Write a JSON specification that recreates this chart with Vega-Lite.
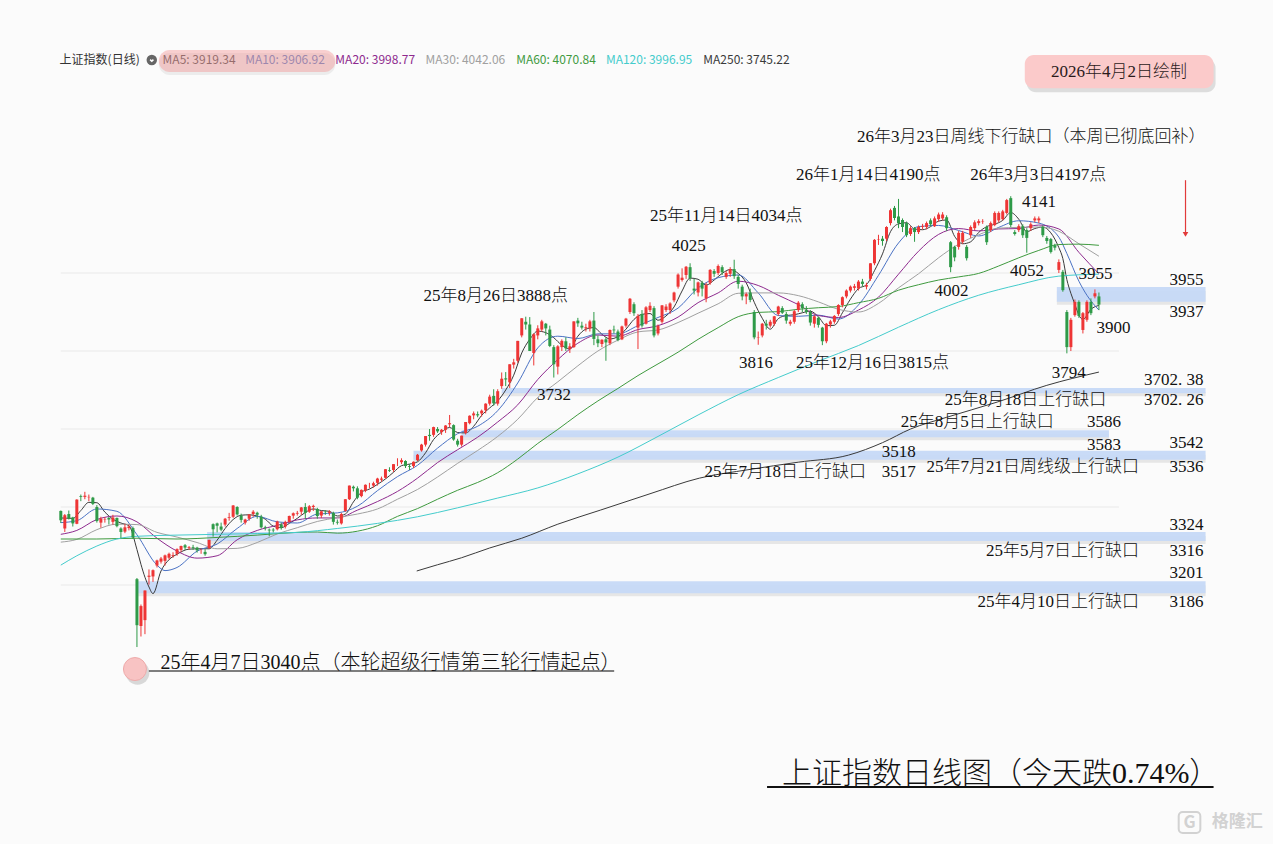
{
"$schema":"https://vega.github.io/schema/vega-lite/v6.json",
"width":1273,"height":844,"padding":0,"autosize":{"type":"none"},
"background":"#fbfbfb",
"config":{"view":{"stroke":null}},
"datasets":{
"candles":[
{"t":-19,"o":3390,"h":3391,"l":3359,"c":3366},{"t":-18,"o":3345,"h":3382,"l":3336,"c":3379},{"t":-17,"o":3382,"h":3391,"l":3368,"c":3371},{"t":-16,"o":3373,"h":3375,"l":3350,"c":3358},{"t":-15,"o":3357,"h":3420,"l":3356,"c":3419},{"t":-14,"o":3428,"h":3432,"l":3415,"c":3426},{"t":-13,"o":3426,"h":3439,"l":3420,"c":3429},{"t":-12,"o":3425,"h":3432,"l":3415,"c":3426},{"t":-11,"o":3424,"h":3426,"l":3405,"c":3408},{"t":-10,"o":3400,"h":3405,"l":3360,"c":3364},
{"t":-9,"o":3360,"h":3375,"l":3347,"c":3370},{"t":-8,"o":3368,"h":3374,"l":3360,"c":3369},{"t":-7,"o":3372,"h":3375,"l":3355,"c":3368},{"t":-6,"o":3362,"h":3380,"l":3355,"c":3373},{"t":-5,"o":3372,"h":3373,"l":3348,"c":3351},{"t":-4,"o":3345,"h":3348,"l":3320,"c":3336},{"t":-3,"o":3337,"h":3357,"l":3333,"c":3348},{"t":-2,"o":3346,"h":3355,"l":3340,"c":3350},{"t":-1,"o":3346,"h":3350,"l":3318,"c":3322},
{"t":0,"o":3215,"h":3218,"l":3041,"c":3097},{"t":1,"o":3095,"h":3150,"l":3068,"c":3146},{"t":2,"o":3110,"h":3186,"l":3074,"c":3186},{"t":3,"o":3221,"h":3240,"l":3201,"c":3224},{"t":4,"o":3222,"h":3240,"l":3208,"c":3238},{"t":5,"o":3250,"h":3265,"l":3245,"c":3263},{"t":6,"o":3260,"h":3272,"l":3255,"c":3268},{"t":7,"o":3262,"h":3278,"l":3250,"c":3276},{"t":8,"o":3270,"h":3283,"l":3265,"c":3280},{"t":9,"o":3275,"h":3284,"l":3270,"c":3277},
{"t":10,"o":3280,"h":3294,"l":3275,"c":3292},{"t":11,"o":3290,"h":3301,"l":3285,"c":3300},{"t":12,"o":3302,"h":3305,"l":3290,"c":3296},{"t":13,"o":3295,"h":3300,"l":3290,"c":3297},{"t":14,"o":3297,"h":3303,"l":3290,"c":3295},{"t":15,"o":3296,"h":3298,"l":3283,"c":3289},{"t":16,"o":3287,"h":3293,"l":3280,"c":3287},{"t":17,"o":3285,"h":3292,"l":3275,"c":3279},{"t":18,"o":3295,"h":3316,"l":3292,"c":3316},{"t":19,"o":3356,"h":3358,"l":3324,"c":3343},
{"t":20,"o":3358,"h":3360,"l":3335,"c":3352},{"t":21,"o":3350,"h":3360,"l":3338,"c":3342},{"t":22,"o":3355,"h":3372,"l":3350,"c":3370},{"t":23,"o":3372,"h":3385,"l":3365,"c":3374},{"t":24,"o":3375,"h":3405,"l":3372,"c":3404},{"t":25,"o":3400,"h":3402,"l":3378,"c":3381},{"t":26,"o":3378,"h":3383,"l":3360,"c":3367},{"t":27,"o":3360,"h":3370,"l":3355,"c":3368},{"t":28,"o":3370,"h":3382,"l":3365,"c":3381},{"t":29,"o":3382,"h":3392,"l":3375,"c":3388},
{"t":30,"o":3385,"h":3388,"l":3370,"c":3380},{"t":31,"o":3375,"h":3380,"l":3345,"c":3348},{"t":32,"o":3348,"h":3352,"l":3340,"c":3346},{"t":33,"o":3342,"h":3345,"l":3325,"c":3340},{"t":34,"o":3342,"h":3346,"l":3335,"c":3340},{"t":35,"o":3343,"h":3365,"l":3340,"c":3363},{"t":36,"o":3355,"h":3360,"l":3342,"c":3347},{"t":37,"o":3350,"h":3365,"l":3345,"c":3362},{"t":38,"o":3362,"h":3378,"l":3360,"c":3377},{"t":39,"o":3378,"h":3386,"l":3370,"c":3384},
{"t":40,"o":3383,"h":3390,"l":3378,"c":3385},{"t":41,"o":3388,"h":3400,"l":3380,"c":3399},{"t":42,"o":3400,"h":3410,"l":3370,"c":3385},{"t":43,"o":3388,"h":3405,"l":3385,"c":3402},{"t":44,"o":3400,"h":3406,"l":3390,"c":3403},{"t":45,"o":3395,"h":3398,"l":3370,"c":3377},{"t":46,"o":3378,"h":3390,"l":3372,"c":3389},{"t":47,"o":3388,"h":3392,"l":3380,"c":3387},{"t":48,"o":3385,"h":3392,"l":3378,"c":3388},{"t":49,"o":3385,"h":3388,"l":3355,"c":3362},
{"t":50,"o":3362,"h":3368,"l":3355,"c":3360},{"t":51,"o":3358,"h":3385,"l":3355,"c":3382},{"t":52,"o":3390,"h":3420,"l":3388,"c":3420},{"t":53,"o":3420,"h":3455,"l":3418,"c":3455},{"t":54,"o":3452,"h":3455,"l":3440,"c":3448},{"t":55,"o":3448,"h":3453,"l":3420,"c":3424},{"t":56,"o":3428,"h":3445,"l":3425,"c":3444},{"t":57,"o":3442,"h":3458,"l":3438,"c":3457},{"t":58,"o":3455,"h":3462,"l":3448,"c":3455},{"t":59,"o":3455,"h":3465,"l":3450,"c":3461},
{"t":60,"o":3462,"h":3475,"l":3455,"c":3473},{"t":61,"o":3470,"h":3478,"l":3465,"c":3473},{"t":62,"o":3475,"h":3497,"l":3473,"c":3497},{"t":63,"o":3495,"h":3502,"l":3490,"c":3493},{"t":64,"o":3495,"h":3510,"l":3490,"c":3510},{"t":65,"o":3510,"h":3525,"l":3505,"c":3510},{"t":66,"o":3515,"h":3525,"l":3510,"c":3520},{"t":67,"o":3518,"h":3520,"l":3500,"c":3505},{"t":68,"o":3505,"h":3510,"l":3495,"c":3503},{"t":69,"o":3505,"h":3517,"l":3500,"c":3516},
{"t":70,"o":3520,"h":3536,"l":3518,"c":3534},{"t":71,"o":3545,"h":3562,"l":3542,"c":3560},{"t":72,"o":3560,"h":3582,"l":3555,"c":3582},{"t":73,"o":3585,"h":3600,"l":3570,"c":3582},{"t":74,"o":3585,"h":3606,"l":3580,"c":3605},{"t":75,"o":3600,"h":3605,"l":3590,"c":3594},{"t":76,"o":3592,"h":3600,"l":3585,"c":3598},{"t":77,"o":3598,"h":3610,"l":3590,"c":3609},{"t":78,"o":3612,"h":3636,"l":3605,"c":3615},{"t":79,"o":3610,"h":3612,"l":3570,"c":3573},
{"t":80,"o":3570,"h":3575,"l":3555,"c":3560},{"t":81,"o":3560,"h":3583,"l":3555,"c":3583},{"t":82,"o":3590,"h":3618,"l":3586,"c":3618},{"t":83,"o":3615,"h":3635,"l":3612,"c":3634},{"t":84,"o":3635,"h":3645,"l":3625,"c":3640},{"t":85,"o":3638,"h":3645,"l":3630,"c":3635},{"t":86,"o":3640,"h":3650,"l":3632,"c":3647},{"t":87,"o":3648,"h":3666,"l":3640,"c":3665},{"t":88,"o":3665,"h":3688,"l":3660,"c":3683},{"t":89,"o":3685,"h":3702,"l":3660,"c":3666},
{"t":90,"o":3665,"h":3702,"l":3660,"c":3697},{"t":91,"o":3710,"h":3745,"l":3703,"c":3729},{"t":92,"o":3730,"h":3746,"l":3710,"c":3727},{"t":93,"o":3720,"h":3766,"l":3705,"c":3766},{"t":94,"o":3765,"h":3780,"l":3755,"c":3771},{"t":95,"o":3775,"h":3826,"l":3770,"c":3826},{"t":96,"o":3840,"h":3884,"l":3835,"c":3884},{"t":97,"o":3875,"h":3888,"l":3855,"c":3868},{"t":98,"o":3868,"h":3887,"l":3800,"c":3800},{"t":99,"o":3795,"h":3845,"l":3763,"c":3843},
{"t":100,"o":3840,"h":3866,"l":3830,"c":3858},{"t":101,"o":3855,"h":3880,"l":3850,"c":3876},{"t":102,"o":3870,"h":3872,"l":3840,"c":3858},{"t":103,"o":3855,"h":3865,"l":3810,"c":3813},{"t":104,"o":3810,"h":3815,"l":3732,"c":3766},{"t":105,"o":3760,"h":3815,"l":3740,"c":3812},{"t":106,"o":3810,"h":3830,"l":3800,"c":3826},{"t":107,"o":3825,"h":3835,"l":3800,"c":3807},{"t":108,"o":3805,"h":3820,"l":3795,"c":3812},{"t":109,"o":3810,"h":3876,"l":3808,"c":3876},
{"t":110,"o":3878,"h":3885,"l":3862,"c":3871},{"t":111,"o":3865,"h":3875,"l":3855,"c":3860},{"t":112,"o":3858,"h":3870,"l":3850,"c":3861},{"t":113,"o":3858,"h":3880,"l":3850,"c":3876},{"t":114,"o":3878,"h":3900,"l":3815,"c":3831},{"t":115,"o":3830,"h":3840,"l":3810,"c":3820},{"t":116,"o":3818,"h":3830,"l":3810,"c":3829},{"t":117,"o":3830,"h":3835,"l":3775,"c":3822},{"t":118,"o":3820,"h":3855,"l":3815,"c":3854},{"t":119,"o":3855,"h":3865,"l":3845,"c":3853},
{"t":120,"o":3850,"h":3855,"l":3825,"c":3828},{"t":121,"o":3830,"h":3865,"l":3828,"c":3863},{"t":122,"o":3865,"h":3885,"l":3860,"c":3883},{"t":123,"o":3900,"h":3936,"l":3895,"c":3934},{"t":124,"o":3920,"h":3925,"l":3890,"c":3897},{"t":125,"o":3860,"h":3895,"l":3805,"c":3890},{"t":126,"o":3895,"h":3905,"l":3860,"c":3865},{"t":127,"o":3870,"h":3915,"l":3868,"c":3912},{"t":128,"o":3905,"h":3925,"l":3900,"c":3916},{"t":129,"o":3910,"h":3915,"l":3835,"c":3840},
{"t":130,"o":3845,"h":3868,"l":3840,"c":3864},{"t":131,"o":3875,"h":3918,"l":3870,"c":3917},{"t":132,"o":3905,"h":3920,"l":3900,"c":3914},{"t":133,"o":3905,"h":3925,"l":3895,"c":3922},{"t":134,"o":3930,"h":3952,"l":3925,"c":3950},{"t":135,"o":3965,"h":3999,"l":3960,"c":3996},{"t":136,"o":3982,"h":4012,"l":3978,"c":3988},{"t":137,"o":3995,"h":4018,"l":3985,"c":4016},{"t":138,"o":4015,"h":4025,"l":3980,"c":3987},{"t":139,"o":3960,"h":3985,"l":3945,"c":3955},
{"t":140,"o":3950,"h":3978,"l":3940,"c":3976},{"t":141,"o":3975,"h":3980,"l":3940,"c":3960},{"t":142,"o":3935,"h":3975,"l":3925,"c":3969},{"t":143,"o":3975,"h":4010,"l":3970,"c":4008},{"t":144,"o":4005,"h":4010,"l":3990,"c":3998},{"t":145,"o":4000,"h":4022,"l":3995,"c":4018},{"t":146,"o":4015,"h":4020,"l":3995,"c":4002},{"t":147,"o":3990,"h":4005,"l":3985,"c":4000},{"t":148,"o":3998,"h":4015,"l":3990,"c":4010},{"t":149,"o":4010,"h":4034,"l":3985,"c":3992},
{"t":150,"o":3990,"h":3995,"l":3960,"c":3972},{"t":151,"o":3965,"h":3970,"l":3930,"c":3940},{"t":152,"o":3940,"h":3950,"l":3920,"c":3946},{"t":153,"o":3950,"h":3960,"l":3925,"c":3931},{"t":154,"o":3900,"h":3905,"l":3830,"c":3835},{"t":155,"o":3835,"h":3850,"l":3816,"c":3836},{"t":156,"o":3840,"h":3872,"l":3835,"c":3870},{"t":157,"o":3870,"h":3880,"l":3855,"c":3865},{"t":158,"o":3865,"h":3880,"l":3860,"c":3875},{"t":159,"o":3870,"h":3890,"l":3865,"c":3889},
{"t":160,"o":3895,"h":3916,"l":3890,"c":3914},{"t":161,"o":3910,"h":3915,"l":3895,"c":3898},{"t":162,"o":3895,"h":3900,"l":3870,"c":3878},{"t":163,"o":3870,"h":3880,"l":3865,"c":3875},{"t":164,"o":3875,"h":3905,"l":3870,"c":3902},{"t":165,"o":3905,"h":3928,"l":3900,"c":3924},{"t":166,"o":3920,"h":3925,"l":3900,"c":3910},{"t":167,"o":3905,"h":3915,"l":3895,"c":3900},{"t":168,"o":3900,"h":3905,"l":3865,"c":3873},{"t":169,"o":3870,"h":3892,"l":3860,"c":3889},
{"t":170,"o":3885,"h":3888,"l":3860,"c":3867},{"t":171,"o":3860,"h":3862,"l":3815,"c":3825},{"t":172,"o":3825,"h":3872,"l":3820,"c":3870},{"t":173,"o":3868,"h":3880,"l":3860,"c":3876},{"t":174,"o":3875,"h":3892,"l":3870,"c":3890},{"t":175,"o":3895,"h":3920,"l":3890,"c":3918},{"t":176,"o":3918,"h":3940,"l":3912,"c":3938},{"t":177,"o":3940,"h":3958,"l":3935,"c":3955},{"t":178,"o":3955,"h":3968,"l":3950,"c":3965},{"t":179,"o":3962,"h":3972,"l":3955,"c":3966},
{"t":180,"o":3960,"h":3982,"l":3955,"c":3978},{"t":181,"o":3978,"h":3985,"l":3965,"c":3972},{"t":182,"o":3965,"h":3975,"l":3958,"c":3969},{"t":183,"o":3985,"h":4025,"l":3980,"c":4025},{"t":184,"o":4025,"h":4087,"l":4020,"c":4085},{"t":185,"o":4085,"h":4098,"l":4072,"c":4086},{"t":186,"o":4088,"h":4095,"l":4070,"c":4082},{"t":187,"o":4088,"h":4120,"l":4082,"c":4118},{"t":188,"o":4128,"h":4165,"l":4122,"c":4161},{"t":189,"o":4167,"h":4172,"l":4135,"c":4141},
{"t":190,"o":4145,"h":4190,"l":4115,"c":4128},{"t":191,"o":4136,"h":4140,"l":4105,"c":4118},{"t":192,"o":4128,"h":4132,"l":4092,"c":4097},{"t":193,"o":4100,"h":4120,"l":4095,"c":4115},{"t":194,"o":4115,"h":4118,"l":4080,"c":4105},{"t":195,"o":4105,"h":4122,"l":4100,"c":4118},{"t":196,"o":4118,"h":4126,"l":4112,"c":4120},{"t":197,"o":4118,"h":4132,"l":4112,"c":4128},{"t":198,"o":4135,"h":4140,"l":4120,"c":4125},{"t":199,"o":4120,"h":4145,"l":4118,"c":4140},
{"t":200,"o":4138,"h":4155,"l":4132,"c":4150},{"t":201,"o":4140,"h":4156,"l":4135,"c":4150},{"t":202,"o":4143,"h":4148,"l":4108,"c":4115},{"t":203,"o":4079,"h":4082,"l":4002,"c":4015},{"t":204,"o":4067,"h":4070,"l":4030,"c":4040},{"t":205,"o":4067,"h":4108,"l":4060,"c":4103},{"t":206,"o":4080,"h":4108,"l":4075,"c":4103},{"t":207,"o":4067,"h":4072,"l":4032,"c":4038},{"t":208,"o":4097,"h":4122,"l":4090,"c":4118},{"t":209,"o":4115,"h":4135,"l":4110,"c":4130},
{"t":210,"o":4128,"h":4138,"l":4122,"c":4133},{"t":211,"o":4132,"h":4138,"l":4126,"c":4133},{"t":212,"o":4118,"h":4122,"l":4072,"c":4079},{"t":213,"o":4110,"h":4132,"l":4105,"c":4128},{"t":214,"o":4123,"h":4158,"l":4120,"c":4154},{"t":215,"o":4135,"h":4158,"l":4130,"c":4154},{"t":216,"o":4138,"h":4162,"l":4135,"c":4158},{"t":217,"o":4154,"h":4190,"l":4150,"c":4187},{"t":218,"o":4192,"h":4197,"l":4118,"c":4123},{"t":219,"o":4105,"h":4110,"l":4096,"c":4100},
{"t":220,"o":4110,"h":4125,"l":4105,"c":4120},{"t":221,"o":4120,"h":4125,"l":4090,"c":4097},{"t":222,"o":4110,"h":4115,"l":4052,"c":4090},{"t":223,"o":4115,"h":4130,"l":4108,"c":4125},{"t":224,"o":4135,"h":4145,"l":4130,"c":4140},{"t":225,"o":4135,"h":4145,"l":4128,"c":4140},{"t":226,"o":4118,"h":4122,"l":4092,"c":4097},{"t":227,"o":4090,"h":4095,"l":4075,"c":4082},{"t":228,"o":4087,"h":4090,"l":4050,"c":4054},{"t":229,"o":4071,"h":4075,"l":4058,"c":4065},
{"t":230,"o":4008,"h":4035,"l":4000,"c":4028},{"t":231,"o":4003,"h":4008,"l":3952,"c":3956},{"t":232,"o":3900,"h":3905,"l":3794,"c":3810},{"t":233,"o":3810,"h":3885,"l":3800,"c":3880},{"t":234,"o":3892,"h":3932,"l":3888,"c":3926},{"t":235,"o":3926,"h":3930,"l":3885,"c":3890},{"t":236,"o":3854,"h":3900,"l":3845,"c":3897},{"t":237,"o":3880,"h":3930,"l":3875,"c":3926},{"t":238,"o":3926,"h":3935,"l":3892,"c":3897},{"t":239,"o":3940,"h":3958,"l":3935,"c":3948},
{"t":240,"o":3940,"h":3950,"l":3905,"c":3919}
],
"ma":[
{"s":"MA5","t":-19,"v":3372},{"s":"MA5","t":-16,"v":3371},{"s":"MA5","t":-14,"v":3391},{"s":"MA5","t":-12,"v":3412},{"s":"MA5","t":-10,"v":3411},{"s":"MA5","t":-8,"v":3387},{"s":"MA5","t":-6,"v":3369},{"s":"MA5","t":-4,"v":3359},{"s":"MA5","t":-2,"v":3352},{"s":"MA5","t":0,"v":3291},{"s":"MA5","t":1,"v":3253},{"s":"MA5","t":2,"v":3220},{"s":"MA5","t":3,"v":3195},{"s":"MA5","t":4,"v":3178},{"s":"MA5","t":6,"v":3236},{"s":"MA5","t":8,"v":3265},{"s":"MA5","t":10,"v":3279},{"s":"MA5","t":13,"v":3292},{"s":"MA5","t":16,"v":3293},{"s":"MA5","t":18,"v":3293},{"s":"MA5","t":20,"v":3315},{"s":"MA5","t":22,"v":3345},{"s":"MA5","t":24,"v":3368},{"s":"MA5","t":26,"v":3379},{"s":"MA5","t":28,"v":3380},{"s":"MA5","t":30,"v":3377},{"s":"MA5","t":32,"v":3369},{"s":"MA5","t":34,"v":3351},{"s":"MA5","t":36,"v":3347},{"s":"MA5","t":38,"v":3358},{"s":"MA5","t":40,"v":3371},{"s":"MA5","t":42,"v":3386},{"s":"MA5","t":44,"v":3395},{"s":"MA5","t":46,"v":3391},{"s":"MA5","t":48,"v":3389},{"s":"MA5","t":50,"v":3377},{"s":"MA5","t":52,"v":3382},{"s":"MA5","t":54,"v":3413},{"s":"MA5","t":56,"v":3438},{"s":"MA5","t":58,"v":3446},{"s":"MA5","t":60,"v":3458},{"s":"MA5","t":62,"v":3472},{"s":"MA5","t":64,"v":3489},{"s":"MA5","t":66,"v":3506},{"s":"MA5","t":68,"v":3510},{"s":"MA5","t":70,"v":3516},{"s":"MA5","t":72,"v":3539},{"s":"MA5","t":74,"v":3573},{"s":"MA5","t":76,"v":3592},{"s":"MA5","t":78,"v":3604},{"s":"MA5","t":80,"v":3591},{"s":"MA5","t":82,"v":3590},{"s":"MA5","t":84,"v":3607},{"s":"MA5","t":86,"v":3635},{"s":"MA5","t":88,"v":3654},{"s":"MA5","t":90,"v":3672},{"s":"MA5","t":92,"v":3700},{"s":"MA5","t":94,"v":3738},{"s":"MA5","t":96,"v":3795},{"s":"MA5","t":98,"v":3830},{"s":"MA5","t":100,"v":3851},{"s":"MA5","t":102,"v":3847},{"s":"MA5","t":104,"v":3834},{"s":"MA5","t":106,"v":3815},{"s":"MA5","t":108,"v":3805},{"s":"MA5","t":110,"v":3838},{"s":"MA5","t":112,"v":3856},{"s":"MA5","t":114,"v":3860},{"s":"MA5","t":116,"v":3843},{"s":"MA5","t":118,"v":3831},{"s":"MA5","t":120,"v":3837},{"s":"MA5","t":122,"v":3856},{"s":"MA5","t":124,"v":3881},{"s":"MA5","t":126,"v":3894},{"s":"MA5","t":128,"v":3896},{"s":"MA5","t":130,"v":3879},{"s":"MA5","t":132,"v":3890},{"s":"MA5","t":134,"v":3913},{"s":"MA5","t":136,"v":3954},{"s":"MA5","t":138,"v":3987},{"s":"MA5","t":140,"v":3984},{"s":"MA5","t":142,"v":3969},{"s":"MA5","t":144,"v":3982},{"s":"MA5","t":146,"v":3999},{"s":"MA5","t":148,"v":4009},{"s":"MA5","t":150,"v":3999},{"s":"MA5","t":152,"v":3975},{"s":"MA5","t":154,"v":3925},{"s":"MA5","t":156,"v":3884},{"s":"MA5","t":158,"v":3856},{"s":"MA5","t":160,"v":3883},{"s":"MA5","t":162,"v":3891},{"s":"MA5","t":164,"v":3893},{"s":"MA5","t":166,"v":3898},{"s":"MA5","t":168,"v":3902},{"s":"MA5","t":170,"v":3888},{"s":"MA5","t":172,"v":3865},{"s":"MA5","t":174,"v":3866},{"s":"MA5","t":176,"v":3898},{"s":"MA5","t":178,"v":3933},{"s":"MA5","t":180,"v":3960},{"s":"MA5","t":182,"v":3970},{"s":"MA5","t":184,"v":4006},{"s":"MA5","t":186,"v":4049},{"s":"MA5","t":188,"v":4106},{"s":"MA5","t":190,"v":4126},{"s":"MA5","t":192,"v":4129},{"s":"MA5","t":194,"v":4113},{"s":"MA5","t":196,"v":4111},{"s":"MA5","t":198,"v":4119},{"s":"MA5","t":200,"v":4133},{"s":"MA5","t":202,"v":4136},{"s":"MA5","t":204,"v":4094},{"s":"MA5","t":206,"v":4075},{"s":"MA5","t":208,"v":4080},{"s":"MA5","t":210,"v":4104},{"s":"MA5","t":212,"v":4119},{"s":"MA5","t":214,"v":4125},{"s":"MA5","t":216,"v":4135},{"s":"MA5","t":218,"v":4155},{"s":"MA5","t":220,"v":4138},{"s":"MA5","t":222,"v":4106},{"s":"MA5","t":224,"v":4114},{"s":"MA5","t":226,"v":4118},{"s":"MA5","t":228,"v":4103},{"s":"MA5","t":230,"v":4065},{"s":"MA5","t":231,"v":4037},{"s":"MA5","t":232,"v":3983},{"s":"MA5","t":233,"v":3948},{"s":"MA5","t":234,"v":3920},{"s":"MA5","t":235,"v":3892},{"s":"MA5","t":236,"v":3881},{"s":"MA5","t":238,"v":3907},{"s":"MA5","t":240,"v":3917},
{"s":"MA10","t":-19,"v":3360},{"s":"MA10","t":-15,"v":3365},{"s":"MA10","t":-10,"v":3395},{"s":"MA10","t":-5,"v":3389},{"s":"MA10","t":0,"v":3329},{"s":"MA10","t":5,"v":3251},{"s":"MA10","t":7,"v":3237},{"s":"MA10","t":10,"v":3245},{"s":"MA10","t":15,"v":3287},{"s":"MA10","t":20,"v":3305},{"s":"MA10","t":25,"v":3345},{"s":"MA10","t":30,"v":3376},{"s":"MA10","t":35,"v":3362},{"s":"MA10","t":40,"v":3359},{"s":"MA10","t":45,"v":3382},{"s":"MA10","t":50,"v":3385},{"s":"MA10","t":55,"v":3402},{"s":"MA10","t":60,"v":3442},{"s":"MA10","t":65,"v":3478},{"s":"MA10","t":70,"v":3507},{"s":"MA10","t":75,"v":3551},{"s":"MA10","t":80,"v":3588},{"s":"MA10","t":85,"v":3607},{"s":"MA10","t":90,"v":3647},{"s":"MA10","t":95,"v":3718},{"s":"MA10","t":100,"v":3808},{"s":"MA10","t":105,"v":3838},{"s":"MA10","t":110,"v":3832},{"s":"MA10","t":115,"v":3844},{"s":"MA10","t":120,"v":3844},{"s":"MA10","t":125,"v":3865},{"s":"MA10","t":130,"v":3886},{"s":"MA10","t":135,"v":3910},{"s":"MA10","t":140,"v":3962},{"s":"MA10","t":145,"v":3988},{"s":"MA10","t":150,"v":3995},{"s":"MA10","t":155,"v":3949},{"s":"MA10","t":160,"v":3891},{"s":"MA10","t":165,"v":3889},{"s":"MA10","t":170,"v":3892},{"s":"MA10","t":175,"v":3882},{"s":"MA10","t":180,"v":3918},{"s":"MA10","t":185,"v":3994},{"s":"MA10","t":190,"v":4077},{"s":"MA10","t":195,"v":4119},{"s":"MA10","t":200,"v":4122},{"s":"MA10","t":205,"v":4109},{"s":"MA10","t":210,"v":4095},{"s":"MA10","t":215,"v":4117},{"s":"MA10","t":220,"v":4134},{"s":"MA10","t":225,"v":4128},{"s":"MA10","t":230,"v":4092},{"s":"MA10","t":232,"v":4050},{"s":"MA10","t":235,"v":3979},{"s":"MA10","t":237,"v":3943},{"s":"MA10","t":240,"v":3905},
{"s":"MA20","t":-19,"v":3330},{"s":"MA20","t":-15,"v":3340},{"s":"MA20","t":-10,"v":3368},{"s":"MA20","t":-5,"v":3377},{"s":"MA20","t":0,"v":3362},{"s":"MA20","t":5,"v":3320},{"s":"MA20","t":10,"v":3287},{"s":"MA20","t":15,"v":3269},{"s":"MA20","t":20,"v":3275},{"s":"MA20","t":25,"v":3316},{"s":"MA20","t":30,"v":3340},{"s":"MA20","t":35,"v":3353},{"s":"MA20","t":40,"v":3367},{"s":"MA20","t":45,"v":3372},{"s":"MA20","t":50,"v":3372},{"s":"MA20","t":55,"v":3392},{"s":"MA20","t":60,"v":3414},{"s":"MA20","t":65,"v":3440},{"s":"MA20","t":70,"v":3474},{"s":"MA20","t":75,"v":3514},{"s":"MA20","t":80,"v":3547},{"s":"MA20","t":85,"v":3579},{"s":"MA20","t":90,"v":3618},{"s":"MA20","t":95,"v":3662},{"s":"MA20","t":100,"v":3727},{"s":"MA20","t":105,"v":3778},{"s":"MA20","t":110,"v":3820},{"s":"MA20","t":115,"v":3841},{"s":"MA20","t":120,"v":3838},{"s":"MA20","t":125,"v":3855},{"s":"MA20","t":130,"v":3865},{"s":"MA20","t":135,"v":3887},{"s":"MA20","t":140,"v":3924},{"s":"MA20","t":145,"v":3949},{"s":"MA20","t":150,"v":3979},{"s":"MA20","t":155,"v":3968},{"s":"MA20","t":160,"v":3943},{"s":"MA20","t":165,"v":3919},{"s":"MA20","t":170,"v":3891},{"s":"MA20","t":175,"v":3886},{"s":"MA20","t":180,"v":3905},{"s":"MA20","t":185,"v":3938},{"s":"MA20","t":190,"v":3997},{"s":"MA20","t":195,"v":4056},{"s":"MA20","t":200,"v":4099},{"s":"MA20","t":205,"v":4114},{"s":"MA20","t":210,"v":4108},{"s":"MA20","t":215,"v":4113},{"s":"MA20","t":220,"v":4114},{"s":"MA20","t":225,"v":4123},{"s":"MA20","t":230,"v":4113},{"s":"MA20","t":235,"v":4053},{"s":"MA20","t":240,"v":3998},
{"s":"MA30","t":-19,"v":3310},{"s":"MA30","t":-15,"v":3317},{"s":"MA30","t":-10,"v":3342},{"s":"MA30","t":-5,"v":3356},{"s":"MA30","t":0,"v":3355},{"s":"MA30","t":5,"v":3335},{"s":"MA30","t":10,"v":3323},{"s":"MA30","t":15,"v":3309},{"s":"MA30","t":20,"v":3293},{"s":"MA30","t":25,"v":3294},{"s":"MA30","t":30,"v":3309},{"s":"MA30","t":35,"v":3331},{"s":"MA30","t":40,"v":3347},{"s":"MA30","t":45,"v":3363},{"s":"MA30","t":50,"v":3373},{"s":"MA30","t":55,"v":3382},{"s":"MA30","t":60,"v":3395},{"s":"MA30","t":65,"v":3420},{"s":"MA30","t":70,"v":3445},{"s":"MA30","t":75,"v":3477},{"s":"MA30","t":80,"v":3512},{"s":"MA30","t":85,"v":3545},{"s":"MA30","t":90,"v":3581},{"s":"MA30","t":95,"v":3625},{"s":"MA30","t":100,"v":3681},{"s":"MA30","t":105,"v":3721},{"s":"MA30","t":110,"v":3762},{"s":"MA30","t":115,"v":3800},{"s":"MA30","t":120,"v":3828},{"s":"MA30","t":125,"v":3849},{"s":"MA30","t":130,"v":3854},{"s":"MA30","t":135,"v":3873},{"s":"MA30","t":140,"v":3897},{"s":"MA30","t":145,"v":3921},{"s":"MA30","t":150,"v":3948},{"s":"MA30","t":155,"v":3949},{"s":"MA30","t":160,"v":3949},{"s":"MA30","t":165,"v":3942},{"s":"MA30","t":170,"v":3926},{"s":"MA30","t":175,"v":3907},{"s":"MA30","t":180,"v":3900},{"s":"MA30","t":185,"v":3922},{"s":"MA30","t":190,"v":3962},{"s":"MA30","t":195,"v":3998},{"s":"MA30","t":200,"v":4039},{"s":"MA30","t":205,"v":4074},{"s":"MA30","t":210,"v":4098},{"s":"MA30","t":215,"v":4115},{"s":"MA30","t":220,"v":4117},{"s":"MA30","t":225,"v":4118},{"s":"MA30","t":230,"v":4107},{"s":"MA30","t":235,"v":4075},{"s":"MA30","t":240,"v":4043},
{"s":"MA60","t":-19,"v":3318},{"s":"MA60","t":-10,"v":3318},{"s":"MA60","t":0,"v":3320},{"s":"MA60","t":10,"v":3318},{"s":"MA60","t":20,"v":3322},{"s":"MA60","t":30,"v":3328},{"s":"MA60","t":40,"v":3335},{"s":"MA60","t":45,"v":3336},{"s":"MA60","t":50,"v":3333},{"s":"MA60","t":55,"v":3338},{"s":"MA60","t":60,"v":3352},{"s":"MA60","t":65,"v":3376},{"s":"MA60","t":70,"v":3396},{"s":"MA60","t":75,"v":3420},{"s":"MA60","t":80,"v":3443},{"s":"MA60","t":85,"v":3463},{"s":"MA60","t":90,"v":3488},{"s":"MA60","t":95,"v":3523},{"s":"MA60","t":100,"v":3563},{"s":"MA60","t":105,"v":3599},{"s":"MA60","t":110,"v":3637},{"s":"MA60","t":115,"v":3672},{"s":"MA60","t":120,"v":3704},{"s":"MA60","t":125,"v":3737},{"s":"MA60","t":130,"v":3767},{"s":"MA60","t":135,"v":3797},{"s":"MA60","t":140,"v":3830},{"s":"MA60","t":145,"v":3860},{"s":"MA60","t":150,"v":3888},{"s":"MA60","t":155,"v":3899},{"s":"MA60","t":160,"v":3901},{"s":"MA60","t":165,"v":3907},{"s":"MA60","t":170,"v":3911},{"s":"MA60","t":175,"v":3914},{"s":"MA60","t":180,"v":3924},{"s":"MA60","t":185,"v":3935},{"s":"MA60","t":190,"v":3956},{"s":"MA60","t":195,"v":3970},{"s":"MA60","t":200,"v":3982},{"s":"MA60","t":205,"v":3990},{"s":"MA60","t":210,"v":3999},{"s":"MA60","t":215,"v":4018},{"s":"MA60","t":220,"v":4039},{"s":"MA60","t":225,"v":4058},{"s":"MA60","t":230,"v":4073},{"s":"MA60","t":235,"v":4074},{"s":"MA60","t":240,"v":4071},
{"s":"MA120","t":-19,"v":3251},{"s":"MA120","t":-15,"v":3275},{"s":"MA120","t":-10,"v":3300},{"s":"MA120","t":-5,"v":3318},{"s":"MA120","t":0,"v":3325},{"s":"MA120","t":10,"v":3328},{"s":"MA120","t":20,"v":3330},{"s":"MA120","t":30,"v":3332},{"s":"MA120","t":40,"v":3335},{"s":"MA120","t":50,"v":3345},{"s":"MA120","t":60,"v":3358},{"s":"MA120","t":70,"v":3375},{"s":"MA120","t":80,"v":3398},{"s":"MA120","t":90,"v":3423},{"s":"MA120","t":100,"v":3449},{"s":"MA120","t":110,"v":3485},{"s":"MA120","t":120,"v":3528},{"s":"MA120","t":130,"v":3581},{"s":"MA120","t":140,"v":3636},{"s":"MA120","t":150,"v":3688},{"s":"MA120","t":160,"v":3732},{"s":"MA120","t":170,"v":3774},{"s":"MA120","t":180,"v":3814},{"s":"MA120","t":190,"v":3861},{"s":"MA120","t":200,"v":3906},{"s":"MA120","t":210,"v":3943},{"s":"MA120","t":220,"v":3970},{"s":"MA120","t":230,"v":3992},{"s":"MA120","t":240,"v":3997},
{"s":"MA250","t":69.8,"v":3236},{"s":"MA250","t":75,"v":3252},{"s":"MA250","t":81,"v":3270},{"s":"MA250","t":88,"v":3295},{"s":"MA250","t":96,"v":3320},{"s":"MA250","t":105,"v":3356},{"s":"MA250","t":115.6,"v":3392},{"s":"MA250","t":128,"v":3434},{"s":"MA250","t":140.3,"v":3474},{"s":"MA250","t":152.7,"v":3496},{"s":"MA250","t":165,"v":3515},{"s":"MA250","t":177.5,"v":3533},{"s":"MA250","t":186,"v":3565},{"s":"MA250","t":193,"v":3600},{"s":"MA250","t":202,"v":3630},{"s":"MA250","t":214.6,"v":3669},{"s":"MA250","t":227,"v":3712},{"s":"MA250","t":240,"v":3746}
],
"bands":[
{"t":229.5,"t2":266.6,"v":3926,"v2":3964},{"t":91,"t2":266.6,"v":3692,"v2":3705},{"t":81,"t2":242.5,"v":3579,"v2":3597},{"t":69,"t2":266.6,"v":3521,"v2":3544},{"t":17.5,"t2":266.6,"v":3313,"v2":3336},{"t":0,"t2":266.6,"v":3179,"v2":3210}
],
"grid":[{"t":-19,"t2":245,"v":3200},{"t":-19,"t2":245,"v":3400},{"t":-19,"t2":245,"v":3600},{"t":-19,"t2":245,"v":3800},{"t":-19,"t2":245,"v":4000}],
"ltexts":[
{"t":164.4,"v":4251.3,"label":"26年1月14日4190点"},{"t":207.9,"v":4251.3,"label":"26年3月3日4197点"},{"t":128,"v":4146.2,"label":"25年11月14日4034点"},{"t":133.4,"v":4069.2,"label":"4025"},{"t":71.5,"v":3941,"label":"25年8月26日3888点"},{"t":220.8,"v":4182,"label":"4141"},{"t":217.8,"v":4005,"label":"4052"},{"t":199,"v":3953.8,"label":"4002"},{"t":234.9,"v":3997.4,"label":"3955"},{"t":239.4,"v":3859,"label":"3900"},{"t":150.2,"v":3769,"label":"3816"},{"t":164.4,"v":3769,"label":"25年12月16日3815点"},{"t":99.8,"v":3687,"label":"3732"},{"t":228.2,"v":3743.6,"label":"3794"}
],
"rtexts":[
{"t":266.6,"v":4348.7,"label":"26年3月23日周线下行缺口（本周已彻底回补）"},
{"t":266.1,"v":3982,"label":"3955"},{"t":266.1,"v":3900,"label":"3937"},{"t":266.1,"v":3725.6,"label":"3702. 38"},{"t":266.1,"v":3674.4,"label":"3702. 26"},{"t":266.1,"v":3564,"label":"3542"},{"t":266.1,"v":3502.6,"label":"3536"},{"t":266.1,"v":3353.8,"label":"3324"},{"t":266.1,"v":3287.2,"label":"3316"},{"t":266.1,"v":3230.8,"label":"3201"},{"t":266.1,"v":3156.4,"label":"3186"},
{"t":245.5,"v":3618,"label":"3586"},{"t":245.5,"v":3559,"label":"3583"},{"t":194.3,"v":3541,"label":"3518"},{"t":194.3,"v":3489.7,"label":"3517"},
{"t":241.8,"v":3674.4,"label":"25年8月18日上行缺口"},{"t":228.7,"v":3618,"label":"25年8月5日上行缺口"},{"t":250,"v":3502.6,"label":"25年7月21日周线级上行缺口"},{"t":250,"v":3287.2,"label":"25年5月7日上行缺口"},{"t":250,"v":3156.4,"label":"25年4月10日上行缺口"},{"t":181.9,"v":3489.7,"label":"25年7月18日上行缺口"}
],
"legend":[
{"s":"MA5","t":6.4,"v":4546,"label":"MA5: 3919.34"},{"s":"MA10","t":27,"v":4546,"label":"MA10: 3906.92"},{"s":"MA20","t":49.5,"v":4546,"label":"MA20: 3998.77"},{"s":"MA30","t":72,"v":4546,"label":"MA30: 4042.06"},{"s":"MA60","t":94.6,"v":4546,"label":"MA60: 4070.84"},{"s":"MA120","t":117,"v":4546,"label":"MA120: 3996.95"},{"s":"MA250","t":141.3,"v":4546,"label":"MA250: 3745.22"}
]
},
"layer":[
{"data":{"name":"grid"},"mark":{"type":"rule","color":"#e9e9e9","strokeWidth":1},
 "encoding":{"x":{"field":"t","type":"quantitative","scale":{"domain":[-32.92,282.18],"nice":false,"zero":false},"axis":null},"x2":{"field":"t2"},
  "y":{"field":"v","type":"quantitative","scale":{"domain":[2536,4700],"nice":false,"zero":false},"axis":null}}},
{"data":{"name":"bands"},"mark":{"type":"rect","color":"#8a8a8a","opacity":0.18,"yOffset":3,"y2Offset":4},
 "encoding":{"x":{"field":"t","type":"quantitative","scale":{"domain":[-32.92,282.18],"nice":false,"zero":false},"axis":null},"x2":{"field":"t2"},
  "y":{"field":"v","type":"quantitative","scale":{"domain":[2536,4700],"nice":false,"zero":false},"axis":null},"y2":{"field":"v2"}}},
{"data":{"name":"bands"},"mark":{"type":"rect","color":"#c6d9f7","opacity":0.95},
 "encoding":{"x":{"field":"t","type":"quantitative","scale":{"domain":[-32.92,282.18],"nice":false,"zero":false},"axis":null},"x2":{"field":"t2"},
  "y":{"field":"v","type":"quantitative","scale":{"domain":[2536,4700],"nice":false,"zero":false},"axis":null},"y2":{"field":"v2"}}},
{"data":{"name":"ma"},"mark":{"type":"line","strokeWidth":1,"interpolate":"monotone"},
 "encoding":{"x":{"field":"t","type":"quantitative","scale":{"domain":[-32.92,282.18],"nice":false,"zero":false},"axis":null},
  "y":{"field":"v","type":"quantitative","scale":{"domain":[2536,4700],"nice":false,"zero":false},"axis":null},
  "color":{"field":"s","type":"nominal","scale":{"domain":["MA5","MA10","MA20","MA30","MA60","MA120","MA250"],"range":["#3a3a3a","#4a72c4","#8e2a8e","#a0a0a0","#3f9a3f","#44cccc","#3a3a3a"]},"legend":null}}},
{"data":{"name":"candles"},"mark":{"type":"rule","strokeWidth":1},
 "encoding":{"x":{"field":"t","type":"quantitative","scale":{"domain":[-32.92,282.18],"nice":false,"zero":false},"axis":null},
  "y":{"field":"l","type":"quantitative","scale":{"domain":[2536,4700],"nice":false,"zero":false},"axis":null},"y2":{"field":"h"},
  "color":{"condition":{"test":"datum.c >= datum.o","value":"#ee3535"},"value":"#2e9a48"}}},
{"data":{"name":"candles"},"mark":{"type":"bar","size":3,"minBandSize":1},
 "encoding":{"x":{"field":"t","type":"quantitative","scale":{"domain":[-32.92,282.18],"nice":false,"zero":false},"axis":null},
  "y":{"field":"o","type":"quantitative","scale":{"domain":[2536,4700],"nice":false,"zero":false},"axis":null},"y2":{"field":"c"},
  "color":{"condition":{"test":"datum.c >= datum.o","value":"#ee3535"},"value":"#2e9a48"}}},
{"data":{"values":[{"t":261.6,"v":4238,"v2":4102}]},"mark":{"type":"rule","color":"#e23a3a","strokeWidth":1.2},
 "encoding":{"x":{"field":"t","type":"quantitative","scale":{"domain":[-32.92,282.18],"nice":false,"zero":false},"axis":null},
  "y":{"field":"v","type":"quantitative","scale":{"domain":[2536,4700],"nice":false,"zero":false},"axis":null},"y2":{"field":"v2"}}},
{"data":{"values":[{"t":261.6,"v":4099}]},"mark":{"type":"point","shape":"triangle-down","filled":true,"color":"#e23a3a","size":32,"opacity":1},
 "encoding":{"x":{"field":"t","type":"quantitative","scale":{"domain":[-32.92,282.18],"nice":false,"zero":false},"axis":null},
  "y":{"field":"v","type":"quantitative","scale":{"domain":[2536,4700],"nice":false,"zero":false},"axis":null}}},
{"data":{"name":"ltexts"},"mark":{"type":"text","align":"left","baseline":"middle","font":"Liberation Serif, Noto Sans CJK SC","fontSize":17,"fontWeight":300,"color":"#111"},
 "encoding":{"x":{"field":"t","type":"quantitative","scale":{"domain":[-32.92,282.18],"nice":false,"zero":false},"axis":null},
  "y":{"field":"v","type":"quantitative","scale":{"domain":[2536,4700],"nice":false,"zero":false},"axis":null},"text":{"field":"label"}}},
{"data":{"name":"rtexts"},"mark":{"type":"text","align":"right","baseline":"middle","font":"Liberation Serif, Noto Sans CJK SC","fontSize":17,"fontWeight":300,"color":"#111"},
 "encoding":{"x":{"field":"t","type":"quantitative","scale":{"domain":[-32.92,282.18],"nice":false,"zero":false},"axis":null},
  "y":{"field":"v","type":"quantitative","scale":{"domain":[2536,4700],"nice":false,"zero":false},"axis":null},"text":{"field":"label"}}},
{"data":{"values":[{"t":-0.1,"v":2980}]},"mark":{"type":"point","filled":true,"color":"#999","opacity":0.35,"size":560,"xOffset":1,"yOffset":2},
 "encoding":{"x":{"field":"t","type":"quantitative","scale":{"domain":[-32.92,282.18],"nice":false,"zero":false},"axis":null},
  "y":{"field":"v","type":"quantitative","scale":{"domain":[2536,4700],"nice":false,"zero":false},"axis":null}}},
{"data":{"values":[{"t":-0.5,"v":2984.6}]},"mark":{"type":"point","filled":true,"color":"#f8c3c3","opacity":1,"size":530,"stroke":"#eeaaaa","strokeWidth":1},
 "encoding":{"x":{"field":"t","type":"quantitative","scale":{"domain":[-32.92,282.18],"nice":false,"zero":false},"axis":null},
  "y":{"field":"v","type":"quantitative","scale":{"domain":[2536,4700],"nice":false,"zero":false},"axis":null}}},
{"data":{"values":[{"t":2.97,"t2":119.06,"v":2979.5}]},"mark":{"type":"rule","color":"#555","strokeWidth":1.5},
 "encoding":{"x":{"field":"t","type":"quantitative","scale":{"domain":[-32.92,282.18],"nice":false,"zero":false},"axis":null},"x2":{"field":"t2"},
  "y":{"field":"v","type":"quantitative","scale":{"domain":[2536,4700],"nice":false,"zero":false},"axis":null}}},
{"data":{"values":[{"t":5.9,"v":3000,"label":"25年4月7日3040点（本轮超级行情第三轮行情起点）"}]},"mark":{"type":"text","align":"left","baseline":"middle","font":"Liberation Serif, Noto Sans CJK SC","fontSize":20,"fontWeight":300,"color":"#111"},
 "encoding":{"x":{"field":"t","type":"quantitative","scale":{"domain":[-32.92,282.18],"nice":false,"zero":false},"axis":null},
  "y":{"field":"v","type":"quantitative","scale":{"domain":[2536,4700],"nice":false,"zero":false},"axis":null},"text":{"field":"label"}}},
{"data":{"values":[{"t":157.2,"t2":268.6,"v":2682}]},"mark":{"type":"rule","color":"#111","strokeWidth":2},
 "encoding":{"x":{"field":"t","type":"quantitative","scale":{"domain":[-32.92,282.18],"nice":false,"zero":false},"axis":null},"x2":{"field":"t2"},
  "y":{"field":"v","type":"quantitative","scale":{"domain":[2536,4700],"nice":false,"zero":false},"axis":null}}},
{"data":{"values":[{"t":160.9,"v":2715.4,"label":"上证指数日线图（今天跌0.74%）"}]},"mark":{"type":"text","align":"left","baseline":"middle","font":"Liberation Serif, Noto Sans CJK SC","fontSize":30,"fontWeight":300,"color":"#111"},
 "encoding":{"x":{"field":"t","type":"quantitative","scale":{"domain":[-32.92,282.18],"nice":false,"zero":false},"axis":null},
  "y":{"field":"v","type":"quantitative","scale":{"domain":[2536,4700],"nice":false,"zero":false},"axis":null},"text":{"field":"label"}}},
{"data":{"values":[{"t":259.9,"t2":265.3,"v":2564,"v2":2617.9}]},"mark":{"type":"rect","fill":null,"stroke":"#d2d2d2","strokeWidth":2,"cornerRadius":4},
 "encoding":{"x":{"field":"t","type":"quantitative","scale":{"domain":[-32.92,282.18],"nice":false,"zero":false},"axis":null},"x2":{"field":"t2"},
  "y":{"field":"v","type":"quantitative","scale":{"domain":[2536,4700],"nice":false,"zero":false},"axis":null},"y2":{"field":"v2"}}},
{"data":{"values":[{"t":262.6,"v":2591,"label":"G"},{"t":274.5,"v":2592.3,"label":"格隆汇"}]},"mark":{"type":"text","align":"center","baseline":"middle","font":"Noto Sans CJK SC","fontWeight":"bold","fontSize":17,"color":"#d2d2d2"},
 "encoding":{"x":{"field":"t","type":"quantitative","scale":{"domain":[-32.92,282.18],"nice":false,"zero":false},"axis":null},
  "y":{"field":"v","type":"quantitative","scale":{"domain":[2536,4700],"nice":false,"zero":false},"axis":null},"text":{"field":"label"}}},
{"data":{"values":[{"t":-19.3,"v":4546,"label":"上证指数(日线)"}]},"mark":{"type":"text","align":"left","baseline":"middle","font":"Noto Sans CJK SC","fontSize":12,"color":"#333"},
 "encoding":{"x":{"field":"t","type":"quantitative","scale":{"domain":[-32.92,282.18],"nice":false,"zero":false},"axis":null},
  "y":{"field":"v","type":"quantitative","scale":{"domain":[2536,4700],"nice":false,"zero":false},"axis":null},"text":{"field":"label"}}},
{"data":{"values":[{"t":3.7,"v":4546}]},"mark":{"type":"point","filled":true,"color":"#666","size":110,"opacity":1},
 "encoding":{"x":{"field":"t","type":"quantitative","scale":{"domain":[-32.92,282.18],"nice":false,"zero":false},"axis":null},
  "y":{"field":"v","type":"quantitative","scale":{"domain":[2536,4700],"nice":false,"zero":false},"axis":null}}},
{"data":{"values":[{"t":3.7,"v":4545}]},"mark":{"type":"point","shape":"M-0.6,-0.3L0,0.3L0.6,-0.3","filled":false,"stroke":"#fff","strokeWidth":1.5,"size":30,"opacity":1},
 "encoding":{"x":{"field":"t","type":"quantitative","scale":{"domain":[-32.92,282.18],"nice":false,"zero":false},"axis":null},
  "y":{"field":"v","type":"quantitative","scale":{"domain":[2536,4700],"nice":false,"zero":false},"axis":null}}},
{"data":{"name":"legend"},"mark":{"type":"text","align":"left","baseline":"middle","font":"Noto Sans CJK SC","fontSize":12},
 "encoding":{"x":{"field":"t","type":"quantitative","scale":{"domain":[-32.92,282.18],"nice":false,"zero":false},"axis":null},
  "y":{"field":"v","type":"quantitative","scale":{"domain":[2536,4700],"nice":false,"zero":false},"axis":null},"text":{"field":"label"},
  "color":{"field":"s","type":"nominal","scale":{"domain":["MA5","MA10","MA20","MA30","MA60","MA120","MA250"],"range":["#3a3a3a","#4a72c4","#8e2a8e","#a0a0a0","#3f9a3f","#44cccc","#3a3a3a"]},"legend":null}}},
{"data":{"values":[{"t":5.45,"t2":49.5,"v":4515.4,"v2":4571.8}]},"mark":{"type":"rect","color":"#999","opacity":0.15,"cornerRadius":11,"yOffset":3,"y2Offset":3},
 "encoding":{"x":{"field":"t","type":"quantitative","scale":{"domain":[-32.92,282.18],"nice":false,"zero":false},"axis":null},"x2":{"field":"t2"},
  "y":{"field":"v","type":"quantitative","scale":{"domain":[2536,4700],"nice":false,"zero":false},"axis":null},"y2":{"field":"v2"}}},
{"data":{"values":[{"t":5.45,"t2":49.5,"v":4515.4,"v2":4571.8}]},"mark":{"type":"rect","color":"#f59a9a","opacity":0.45,"cornerRadius":11},
 "encoding":{"x":{"field":"t","type":"quantitative","scale":{"domain":[-32.92,282.18],"nice":false,"zero":false},"axis":null},"x2":{"field":"t2"},
  "y":{"field":"v","type":"quantitative","scale":{"domain":[2536,4700],"nice":false,"zero":false},"axis":null},"y2":{"field":"v2"}}},
{"data":{"values":[{"t":221.5,"t2":268.6,"v":4474,"v2":4559}]},"mark":{"type":"rect","color":"#999","opacity":0.3,"cornerRadius":9,"xOffset":2,"x2Offset":2,"yOffset":4,"y2Offset":4},
 "encoding":{"x":{"field":"t","type":"quantitative","scale":{"domain":[-32.92,282.18],"nice":false,"zero":false},"axis":null},"x2":{"field":"t2"},
  "y":{"field":"v","type":"quantitative","scale":{"domain":[2536,4700],"nice":false,"zero":false},"axis":null},"y2":{"field":"v2"}}},
{"data":{"values":[{"t":221.5,"t2":268.6,"v":4474,"v2":4559}]},"mark":{"type":"rect","color":"#fbcaca","opacity":1,"cornerRadius":9},
 "encoding":{"x":{"field":"t","type":"quantitative","scale":{"domain":[-32.92,282.18],"nice":false,"zero":false},"axis":null},"x2":{"field":"t2"},
  "y":{"field":"v","type":"quantitative","scale":{"domain":[2536,4700],"nice":false,"zero":false},"axis":null},"y2":{"field":"v2"}}},
{"data":{"values":[{"t":245,"v":4515.4,"label":"2026年4月2日绘制"}]},"mark":{"type":"text","align":"center","baseline":"middle","font":"Liberation Serif, Noto Sans CJK SC","fontSize":17,"fontWeight":300,"color":"#2a1a1a"},
 "encoding":{"x":{"field":"t","type":"quantitative","scale":{"domain":[-32.92,282.18],"nice":false,"zero":false},"axis":null},
  "y":{"field":"v","type":"quantitative","scale":{"domain":[2536,4700],"nice":false,"zero":false},"axis":null},"text":{"field":"label"}}}
]
}
